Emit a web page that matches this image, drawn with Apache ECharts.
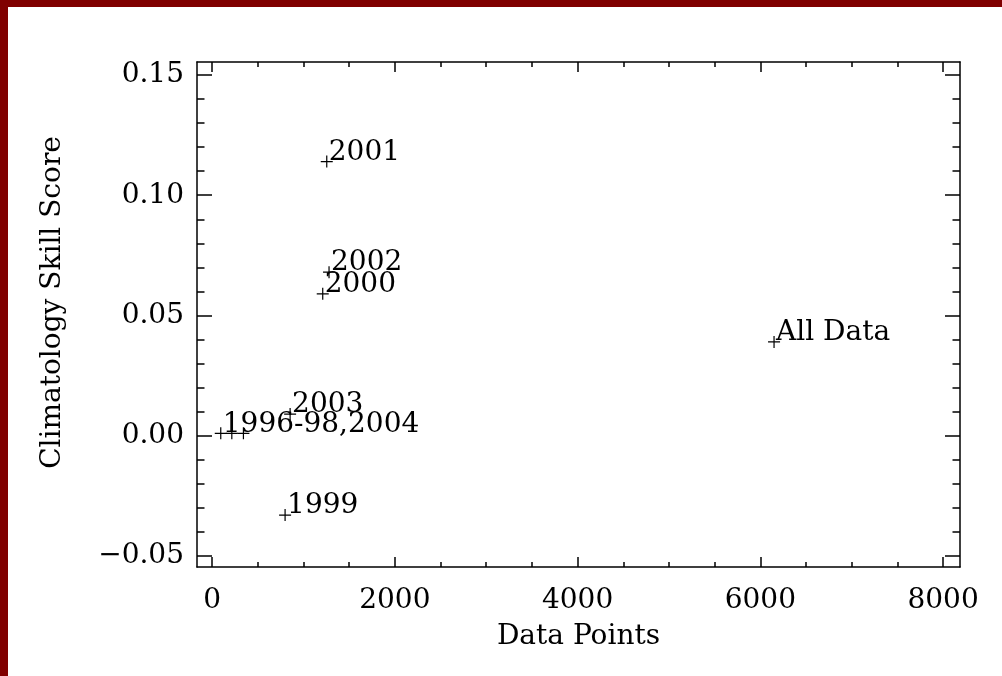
<!DOCTYPE html>
<html>
<head>
<meta charset="utf-8">
<title>Climatology Skill Score vs Data Points</title>
<script src="https://cdn.jsdelivr.net/npm/echarts@6/dist/echarts.min.js"></script>
<style>
  html, body { margin: 0; padding: 0; background: #ffffff; }
  #chart { width: 1002px; height: 676px; }
</style>
</head>
<body>
<div id="chart"></div>
<script>
// Skill score per season subset, plotted against the number of data points used.
const pointNames  = ['2001', '2002', '2000', 'All Data', '2003', '1999', '1996-98,2004', '', ''];
const dataPoints  = [1255, 1280, 1211, 6150, 854, 799, 95, 216, 343];
const skillScores = [0.114, 0.068, 0.059, 0.039, 0.009, -0.033, 0.001, 0.001, 0.001];

// Axis ranges and tick positions
const xRange = [-165, 8185];
const yRange = [-0.0546, 0.1554];
const xMajorTicks = [0, 2000, 4000, 6000, 8000];
const xMinorTicks = [0, 500, 1000, 1500, 2000, 2500, 3000, 3500, 4000, 4500, 5000, 5500, 6000, 6500, 7000, 7500, 8000];
const yMajorTicks = [-0.05, 0, 0.05, 0.1, 0.15];
const yMinorTicks = [-0.05, -0.04, -0.03, -0.02, -0.01, 0, 0.01, 0.02, 0.03, 0.04, 0.05,
                     0.06, 0.07, 0.08, 0.09, 0.1, 0.11, 0.12, 0.13, 0.14, 0.15];

const FONT = 'DejaVu Serif';
const FONT_SIZE = 28;
const INK = '#000000';

const seriesData = dataPoints.map((x, i) => ({ value: [x, skillScores[i]], name: pointNames[i] }));

function fmtY(v) {
  const s = Math.abs(v).toFixed(2);
  return v < -1e-9 ? '\u2212' + s : s;
}

// One axis per side for major ticks (with frame line) plus one for minor ticks.
function xAxisDef(position, major, withLabels) {
  return {
    type: 'value', position: position, min: xRange[0], max: xRange[1],
    axisLine: { show: major, onZero: false, lineStyle: { color: INK, width: 1.5 } },
    axisTick: { show: true, inside: true, length: major ? 10 : 5,
                customValues: major ? xMajorTicks : xMinorTicks,
                lineStyle: { color: INK, width: 1.5 } },
    axisLabel: withLabels ? {
      show: true, customValues: xMajorTicks, margin: 20,
      color: INK, fontFamily: FONT, fontSize: FONT_SIZE,
      formatter: v => String(Math.round(v))
    } : { show: false },
    splitLine: { show: false },
    name: withLabels ? 'Data Points' : '',
    nameLocation: 'middle', nameGap: 56,
    nameTextStyle: { color: INK, fontFamily: FONT, fontSize: FONT_SIZE }
  };
}

function yAxisDef(position, major, withLabels) {
  return {
    type: 'value', position: position, min: yRange[0], max: yRange[1],
    axisLine: { show: major, onZero: false, lineStyle: { color: INK, width: 1.5 } },
    axisTick: { show: true, inside: true, length: major ? 15 : 7.5,
                customValues: major ? yMajorTicks : yMinorTicks,
                lineStyle: { color: INK, width: 1.5 } },
    axisLabel: withLabels ? {
      show: true, customValues: yMajorTicks, margin: 13,
      color: INK, fontFamily: FONT, fontSize: FONT_SIZE,
      padding: [7, 0, 0, 0],
      formatter: v => fmtY(v)
    } : { show: false },
    splitLine: { show: false },
    name: withLabels ? 'Climatology Skill Score' : '',
    nameLocation: 'middle', nameGap: 130, nameRotate: 90,
    nameTextStyle: { color: INK, fontFamily: FONT, fontSize: FONT_SIZE, padding: [0, 0, 0, 24] }
  };
}

const chart = echarts.init(document.getElementById('chart'), null, { renderer: 'canvas' });

chart.setOption({
  animation: false,
  backgroundColor: '#ffffff',
  grid: { left: 197, right: 42, top: 62, bottom: 109, containLabel: false },
  xAxis: [
    xAxisDef('bottom', true, true),
    xAxisDef('bottom', false, false),
    xAxisDef('top', true, false),
    xAxisDef('top', false, false)
  ],
  yAxis: [
    yAxisDef('left', true, true),
    yAxisDef('left', false, false),
    yAxisDef('right', true, false),
    yAxisDef('right', false, false)
  ],
  graphic: [
    { type: 'rect', left: 0, top: 0, z: 100, shape: { width: 1002, height: 7 }, style: { fill: '#800000' } },
    { type: 'rect', left: 0, top: 0, z: 100, shape: { width: 8, height: 676 }, style: { fill: '#800000' } }
  ],
  series: [{
    type: 'scatter',
    xAxisIndex: 0, yAxisIndex: 0,
    data: seriesData,
    symbol: 'path://M0,6H12M6,0V12',
    symbolSize: 12,
    itemStyle: { color: 'transparent', borderColor: INK, borderWidth: 1.2, opacity: 1 },
    label: {
      show: true,
      position: ['50%', '50%'],
      align: 'left', verticalAlign: 'bottom',
      offset: [2, 5],
      opacity: 1,
      color: INK, fontFamily: FONT, fontSize: FONT_SIZE,
      formatter: p => p.name
    },
    emphasis: { disabled: true },
    silent: true
  }]
});
</script>
</body>
</html>
